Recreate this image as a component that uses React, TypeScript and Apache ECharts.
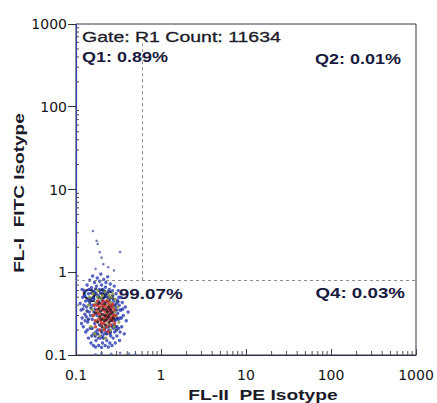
import React, { useEffect, useRef } from "react";
import * as echarts from "echarts";

// Quadrant gate positions (FL-II, FL-I)
const gateX = 0.6;
const gateY = 0.8;

// Events drawn in density colours: outer (blue), mid (navy, green), core (red), densest (dark)
const eventsBlue: [number, number][] = [
  [0.112, 0.42], [0.115, 0.35], [0.118, 0.28], [0.12, 0.5], [0.122, 0.22], [0.125, 0.6], [0.127, 0.31],
  [0.13, 0.19], [0.13, 0.45], [0.133, 0.38], [0.135, 0.7], [0.137, 0.25], [0.14, 0.16], [0.14, 0.55],
  [0.143, 0.33], [0.145, 0.8], [0.147, 0.21], [0.15, 0.14], [0.15, 0.48], [0.152, 0.65], [0.155, 0.27],
  [0.157, 0.9], [0.16, 0.13], [0.16, 0.18], [0.162, 0.58], [0.165, 0.75], [0.168, 0.36], [0.17, 0.125],
  [0.172, 0.15], [0.175, 0.68], [0.178, 0.85], [0.18, 0.2], [0.182, 0.52], [0.185, 0.13], [0.188, 0.62],
  [0.19, 0.78], [0.193, 0.16], [0.196, 0.95], [0.2, 0.123], [0.2, 0.7], [0.205, 0.14], [0.21, 0.58],
  [0.212, 0.82], [0.215, 0.18], [0.22, 0.13], [0.222, 0.66], [0.225, 0.75], [0.23, 0.15], [0.233, 0.55],
  [0.236, 0.88], [0.24, 0.125], [0.243, 0.2], [0.246, 0.62], [0.25, 0.14], [0.253, 0.72], [0.256, 0.17],
  [0.26, 0.5], [0.265, 0.13], [0.268, 0.6], [0.27, 0.23], [0.274, 0.16], [0.278, 0.45], [0.282, 0.68],
  [0.285, 0.19], [0.29, 0.14], [0.293, 0.38], [0.296, 0.55], [0.3, 0.27], [0.303, 0.17], [0.306, 0.46],
  [0.31, 0.32], [0.314, 0.6], [0.318, 0.21], [0.322, 0.4], [0.326, 0.15], [0.33, 0.28], [0.335, 0.5],
  [0.34, 0.35], [0.345, 0.22], [0.35, 0.43], [0.36, 0.3], [0.37, 0.18], [0.38, 0.38], [0.39, 0.26],
  [0.41, 0.33], [0.118, 0.62], [0.124, 0.4], [0.128, 0.26], [0.138, 0.46], [0.148, 0.3], [0.158, 0.4],
  [0.166, 0.24], [0.176, 0.3], [0.186, 0.44], [0.198, 0.2], [0.208, 0.4], [0.218, 0.3], [0.228, 0.44],
  [0.238, 0.35], [0.248, 0.28], [0.258, 0.38], [0.272, 0.32], [0.288, 0.26], [0.298, 0.42], [0.32, 0.5],
  [0.33, 0.19], [0.116, 0.24], [0.121, 0.36], [0.126, 0.52], [0.132, 0.29], [0.136, 0.2], [0.142, 0.62],
  [0.146, 0.41], [0.153, 0.17], [0.163, 0.47], [0.171, 0.19], [0.183, 0.16], [0.204, 0.17], [0.226, 0.19],
  [0.252, 0.18], [0.276, 0.21], [0.302, 0.22], [0.316, 0.27], [0.328, 0.35], [0.342, 0.28], [0.355, 0.36],
];

const eventsNavy: [number, number][] = [
  [0.135, 0.34], [0.14, 0.27], [0.145, 0.44], [0.15, 0.37], [0.155, 0.21], [0.16, 0.49], [0.163, 0.33],
  [0.168, 0.17], [0.172, 0.55], [0.176, 0.41], [0.18, 0.18], [0.184, 0.5], [0.19, 0.23], [0.194, 0.56],
  [0.2, 0.19], [0.204, 0.46], [0.21, 0.16], [0.214, 0.5], [0.22, 0.21], [0.224, 0.54], [0.23, 0.18],
  [0.236, 0.5], [0.242, 0.22], [0.248, 0.46], [0.254, 0.19], [0.26, 0.4], [0.266, 0.22], [0.272, 0.48],
  [0.278, 0.27], [0.284, 0.4], [0.292, 0.22], [0.298, 0.35], [0.305, 0.28], [0.312, 0.44], [0.3, 0.2],
  [0.152, 0.56], [0.17, 0.63], [0.205, 0.62], [0.24, 0.58], [0.27, 0.52],
];

const eventsGreen: [number, number][] = [
  [0.14, 0.4], [0.145, 0.5], [0.15, 0.22], [0.155, 0.35], [0.16, 0.55], [0.165, 0.18], [0.17, 0.43],
  [0.175, 0.26], [0.18, 0.6], [0.185, 0.33], [0.19, 0.17], [0.195, 0.48], [0.2, 0.28], [0.205, 0.52],
  [0.21, 0.21], [0.215, 0.39], [0.22, 0.58], [0.225, 0.16], [0.23, 0.31], [0.235, 0.46], [0.24, 0.24],
  [0.245, 0.53], [0.25, 0.35], [0.255, 0.2], [0.26, 0.43], [0.265, 0.29], [0.27, 0.55], [0.275, 0.37],
  [0.28, 0.22], [0.29, 0.47], [0.3, 0.3], [0.31, 0.38], [0.32, 0.25], [0.158, 0.3], [0.178, 0.5],
  [0.198, 0.38], [0.218, 0.27], [0.238, 0.4], [0.258, 0.5], [0.285, 0.33],
];

const eventsRed: [number, number][] = [
  [0.16, 0.3], [0.165, 0.4], [0.17, 0.22], [0.175, 0.35], [0.18, 0.45], [0.185, 0.27], [0.19, 0.2],
  [0.19, 0.38], [0.195, 0.31], [0.2, 0.42], [0.2, 0.24], [0.205, 0.35], [0.21, 0.28], [0.21, 0.45],
  [0.215, 0.2], [0.22, 0.33], [0.22, 0.4], [0.225, 0.26], [0.23, 0.37], [0.23, 0.22], [0.235, 0.3],
  [0.24, 0.43], [0.24, 0.19], [0.245, 0.34], [0.25, 0.27], [0.25, 0.4], [0.255, 0.23], [0.26, 0.32],
  [0.265, 0.38], [0.27, 0.26], [0.275, 0.3], [0.28, 0.35], [0.285, 0.24], [0.29, 0.3], [0.168, 0.26],
  [0.182, 0.32], [0.196, 0.26], [0.208, 0.39], [0.228, 0.29], [0.248, 0.36], [0.262, 0.28], [0.178, 0.4],
  [0.232, 0.45], [0.212, 0.24], [0.27, 0.41],
];

const eventsDark: [number, number][] = [
  [0.17, 0.32], [0.18, 0.25], [0.185, 0.36], [0.19, 0.29], [0.195, 0.34], [0.2, 0.27], [0.205, 0.31],
  [0.21, 0.36], [0.215, 0.26], [0.22, 0.3], [0.225, 0.35], [0.23, 0.27], [0.235, 0.33], [0.24, 0.29],
  [0.245, 0.25], [0.25, 0.31], [0.255, 0.35], [0.26, 0.26], [0.265, 0.33], [0.202, 0.22], [0.222, 0.23],
  [0.242, 0.38], [0.188, 0.42], [0.218, 0.42], [0.275, 0.28],
];

// Sparse events above the main population and along the lower edge
const eventsSparse: [number, number][] = [
  [0.158, 3.15], [0.175, 2.4], [0.18, 2.2], [0.19, 1.75], [0.2, 1.5], [0.33, 1.75], [0.21, 1.25],
  [0.17, 1.1], [0.24, 1.15], [0.28, 1.05], [0.2, 0.105], [0.26, 0.103], [0.33, 0.106], [0.42, 0.104],
  [0.5, 0.102], [0.17, 0.102],
];

// Log-scale minor ticks: mantissas within each decade
const minorMantissas = [2, 3, 4, 5, 6, 7, 8, 9];
const decades = [0.1, 1, 10, 100];
const minorTicks: number[] = [];
decades.forEach((d) => minorMantissas.forEach((m) => minorTicks.push(+(d * m).toPrecision(3))));

const axisMin = 0.1;
const axisMax = 1000;

const textFont = "Liberation Sans, Arial, sans-serif";

export default function App() {
  const ref = useRef<HTMLDivElement>(null);

  useEffect(() => {
    if (!ref.current) return;
    const chart = echarts.init(ref.current, undefined, { renderer: "svg" });

    const scatter = (data: [number, number][], color: string, size: number) => ({
      type: "scatter",
      data,
      symbolSize: size,
      itemStyle: { color, opacity: 0.85 },
      silent: true,
    });

    chart.setOption({
      animation: false,
      backgroundColor: "#ffffff",
      grid: {
        left: 76,
        right: 21,
        top: 24,
        bottom: 48,
        show: true,
        borderColor: "#34344a",
        borderWidth: 1,
      },
      xAxis: {
        type: "log",
        logBase: 10,
        min: axisMin,
        max: axisMax,
        splitLine: { show: false },
        axisLine: { show: true, lineStyle: { color: "#303040", width: 1 } },
        axisTick: { show: true, inside: true, length: 6, lineStyle: { color: "#404050" } },
        axisLabel: {
          color: "#141414",
          fontFamily: "DejaVu Sans, sans-serif",
          fontSize: 14,
          margin: 13,
          formatter: (v: number) => String(+v.toPrecision(3)),
        },
      },
      yAxis: {
        type: "log",
        logBase: 10,
        min: axisMin,
        max: axisMax,
        splitLine: { show: false },
        axisLine: { show: true, lineStyle: { color: "#2f45a8", width: 1.2 } },
        axisTick: { show: true, inside: false, length: 8, lineStyle: { color: "#303040" } },
        axisLabel: {
          color: "#141414",
          fontFamily: "DejaVu Sans, sans-serif",
          fontSize: 14,
          margin: 9,
          formatter: (v: number) => String(+v.toPrecision(3)),
        },
      },
      series: [
        {
          type: "custom",
          silent: true,
          data: minorTicks.map((v) => [v, axisMin]),
          renderItem: (_p: any, api: any) => {
            const pt = api.coord([api.value(0), axisMin]);
            return {
              type: "line",
              shape: { x1: pt[0], y1: pt[1], x2: pt[0], y2: pt[1] - 4 },
              style: { stroke: "#50505a", lineWidth: 1 },
            };
          },
        },
        {
          type: "custom",
          silent: true,
          data: minorTicks.map((v) => [axisMin, v]),
          renderItem: (_p: any, api: any) => {
            const pt = api.coord([axisMin, api.value(1)]);
            return {
              type: "line",
              shape: { x1: pt[0], y1: pt[1], x2: pt[0] + 3, y2: pt[1] },
              style: { stroke: "#50505a", lineWidth: 1 },
            };
          },
        },
        {
          ...scatter(eventsBlue, "#3547b8", 3.4),
          markLine: {
            silent: true,
            symbol: ["none", "none"],
            label: { show: false },
            lineStyle: { color: "#8c8c8c", type: [3, 3], width: 1 },
            data: [
              [{ coord: [gateX, gateY] }, { coord: [gateX, 600] }],
              [{ coord: [axisMin, gateY] }, { coord: [axisMax, gateY] }],
            ],
          },
        },
        scatter(eventsSparse, "#5a6aa8", 2.6),
        scatter(eventsNavy, "#23307e", 3.4),
        scatter(eventsGreen, "#8a9a40", 3.2),
        scatter(eventsRed, "#c4302c", 3.4),
        scatter(eventsDark, "#3a1420", 3.2),
      ],
      graphic: [
        {
          type: "text",
          x: 82,
          y: 37,
          scaleX: 1.3,
          style: {
            text: "Gate: R1 Count: 11634",
            font: `15px ${textFont}`,
            fill: "#1c1c28",
            stroke: "#1c1c28",
            lineWidth: 0.3,
            verticalAlign: "middle",
            align: "left",
          },
        },
        {
          type: "text",
          x: 82,
          y: 57,
          scaleX: 1.2,
          style: { text: "Q1: 0.89%", font: `bold 15px ${textFont}`, fill: "#1a1a40", verticalAlign: "middle", align: "left" },
        },
        {
          type: "text",
          x: 401,
          y: 59,
          scaleX: 1.2,
          style: { text: "Q2: 0.01%", font: `bold 15px ${textFont}`, fill: "#1a1a40", verticalAlign: "middle", align: "right" },
        },
        {
          type: "text",
          x: 82,
          y: 294,
          scaleX: 1.26,
          style: { text: "Q3: 99.07%", font: `bold 15px ${textFont}`, fill: "#1a1a40", verticalAlign: "middle", align: "left" },
        },
        {
          type: "text",
          x: 405,
          y: 293,
          scaleX: 1.25,
          style: { text: "Q4: 0.03%", font: `bold 15px ${textFont}`, fill: "#1a1a40", verticalAlign: "middle", align: "right" },
        },
        {
          type: "text",
          x: 263,
          y: 395,
          scaleX: 1.28,
          style: { text: "FL-II  PE Isotype", font: `bold 15px ${textFont}`, fill: "#1a1a28", verticalAlign: "middle", align: "center" },
        },
        {
          type: "text",
          x: 19,
          y: 193,
          rotation: Math.PI / 2,
          scaleX: 1.27,
          style: { text: "FL-I  FITC Isotype", font: `bold 15px ${textFont}`, fill: "#1a1a28", verticalAlign: "middle", align: "center" },
        },
      ],
    });

    return () => chart.dispose();
  }, []);

  return (
    <div
      ref={ref}
      style={{ position: "fixed", left: 0, top: 0, width: 437, height: 403, background: "#fff" }}
    />
  );
}
